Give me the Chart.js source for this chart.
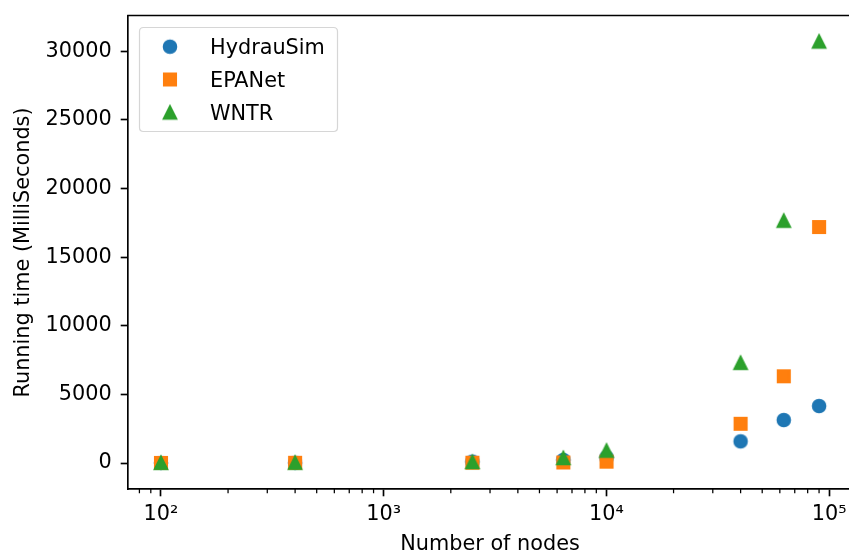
<!DOCTYPE html>
<html><head><meta charset="utf-8">
<script src="https://cdn.jsdelivr.net/npm/chart.js@4.4.1/dist/chart.umd.min.js"></script>
<style>html,body{margin:0;padding:0;background:#fff;overflow:hidden;width:849px;height:554px}canvas{display:block}</style>
</head><body>
<canvas id="c" width="860" height="560"></canvas>
<script>
const nodes = [100, 400, 2500, 6400, 10000, 40000, 62500, 90000];
const hydrauSim = [5, 10, 100, 220, 400, 1580, 3130, 4150];
const epanet = [8, 15, 20, 40, 100, 2860, 6320, 17200];
const wntr = [10, 20, 70, 360, 900, 7300, 17660, 30720];
const seriesNames = ['HydrauSim', 'EPANet', 'WNTR'];
const seriesColors = ['#1f77b4', '#ff7f0e', '#2ca02c'];
const xMajorTicks = [100, 1000, 10000, 100000];
const xTickLabels = ['10²', '10³', '10⁴', '10⁵'];
const xMinorTicks = [80, 90, 200, 300, 400, 500, 600, 700, 800, 900,
  2000, 3000, 4000, 5000, 6000, 7000, 8000, 9000,
  20000, 30000, 40000, 50000, 60000, 70000, 80000, 90000];
const yTicks = [0, 5000, 10000, 15000, 20000, 25000, 30000];

const FONT = 'DejaVu Sans';
const FS = 20.8;

function makeMarker(shape, color) {
  const c = document.createElement('canvas');
  c.width = 18; c.height = 18;
  const g = c.getContext('2d');
  g.fillStyle = color; g.strokeStyle = color; g.lineWidth = 2.08; g.lineJoin = 'miter';
  g.beginPath();
  if (shape === 'circle') {
    g.arc(9, 9, 6.25, 0, Math.PI * 2);
  } else if (shape === 'square') {
    g.rect(3, 3, 12, 12);
  } else {
    g.moveTo(9, 9 - 6.25); g.lineTo(9 - 6.25, 9 + 6.25); g.lineTo(9 + 6.25, 9 + 6.25); g.closePath();
  }
  g.fill(); g.stroke();
  return c;
}
const markers = [makeMarker('circle', seriesColors[0]), makeMarker('square', seriesColors[1]), makeMarker('triangle', seriesColors[2])];
const seriesValues = [hydrauSim, epanet, wntr];

const datasets = seriesNames.map((name, i) => ({
  label: name,
  data: nodes.map((n, j) => ({x: n, y: seriesValues[i][j]})),
  pointStyle: markers[i],
  pointRadius: 7,
  backgroundColor: seriesColors[i],
  borderColor: seriesColors[i],
  order: 3 - i
}));

const extras = {
  id: 'extras',
  afterDraw(chart) {
    const ctx = chart.ctx;
    const a = chart.chartArea;
    const xs = chart.scales.x;
    ctx.save();
    // top spine
    ctx.strokeStyle = '#000'; ctx.lineWidth = 1.67;
    ctx.beginPath(); ctx.moveTo(a.left - 0.8, a.top - 0.5); ctx.lineTo(a.right, a.top - 0.5); ctx.stroke();
    // minor ticks
    ctx.lineWidth = 1.25;
    ctx.beginPath();
    xMinorTicks.forEach(v => {
      const px = xs.getPixelForValue(v);
      ctx.moveTo(px, a.bottom); ctx.lineTo(px, a.bottom + 4.2);
    });
    ctx.stroke();
    // legend
    const bx = 139.5, by = 27.5, bw = 198, bh = 104, r = 4;
    ctx.beginPath();
    ctx.moveTo(bx + r, by); ctx.lineTo(bx + bw - r, by); ctx.quadraticCurveTo(bx + bw, by, bx + bw, by + r);
    ctx.lineTo(bx + bw, by + bh - r); ctx.quadraticCurveTo(bx + bw, by + bh, bx + bw - r, by + bh);
    ctx.lineTo(bx + r, by + bh); ctx.quadraticCurveTo(bx, by + bh, bx, by + bh - r);
    ctx.lineTo(bx, by + r); ctx.quadraticCurveTo(bx, by, bx + r, by);
    ctx.closePath();
    ctx.fillStyle = 'rgba(255,255,255,0.8)'; ctx.fill();
    ctx.strokeStyle = '#d6d6d6'; ctx.lineWidth = 1.2; ctx.stroke();
    const rows = [46.7, 79.5, 112.5];
    ctx.font = FS + 'px "' + FONT + '"';
    ctx.fillStyle = '#000';
    ctx.textBaseline = 'alphabetic'; ctx.textAlign = 'left';
    seriesNames.forEach((n, i) => {
      ctx.drawImage(markers[i], 170 - 9, rows[i] - 9);
      ctx.fillText(n, 210, rows[i] + 7);
    });
    ctx.restore();
  }
};

function zeroPad(s) { s.paddingTop = 0; s.paddingBottom = 0; s.paddingLeft = 0; s.paddingRight = 0; }

Chart.defaults.color = '#000';
Chart.defaults.font.family = FONT;
Chart.defaults.font.size = FS;

new Chart(document.getElementById('c'), {
  type: 'scatter',
  data: {datasets},
  options: {
    responsive: false,
    animation: false,
    events: [],
    layout: {padding: {top: 16, right: 7, left: 0, bottom: 0}},
    plugins: {legend: {display: false}, tooltip: {enabled: false}},
    scales: {
      x: {
        type: 'logarithmic', position: 'bottom', min: 71.1, max: 126500,
        afterBuildTicks: s => { s.ticks = xMajorTicks.map(v => ({value: v})); },
        afterFit: s => { s.height = 71; zeroPad(s); },
        grid: {drawOnChartArea: false, drawTicks: true, tickLength: 7.3, tickWidth: 1.67, tickColor: '#000'},
        border: {display: true, color: '#000', width: 1.67},
        ticks: {
          autoSkip: false, maxRotation: 0, padding: 6, color: '#000',
          font: {family: FONT, size: FS},
          callback: v => { const i = xMajorTicks.indexOf(v); return i >= 0 ? xTickLabels[i] : ''; }
        },
        title: {display: true, text: 'Number of nodes', color: '#000', font: {family: FONT, size: FS}, padding: {top: 0, bottom: 2.8}}
      },
      y: {
        type: 'linear', position: 'left', min: -1895, max: 32580,
        afterBuildTicks: s => { s.ticks = yTicks.map(v => ({value: v})); },
        afterFit: s => { s.width = 128; zeroPad(s); },
        grid: {drawOnChartArea: false, drawTicks: true, tickLength: 7.3, tickWidth: 1.67, tickColor: '#000'},
        border: {display: true, color: '#000', width: 1.67},
        ticks: {padding: 9, color: '#000', font: {family: FONT, size: FS}, callback: v => String(v)},
        title: {display: true, text: 'Running time (MilliSeconds)', color: '#000', font: {family: FONT, size: FS}, padding: {top: 11, bottom: 0}}
      }
    }
  },
  plugins: [extras]
});
</script>
</body></html>
